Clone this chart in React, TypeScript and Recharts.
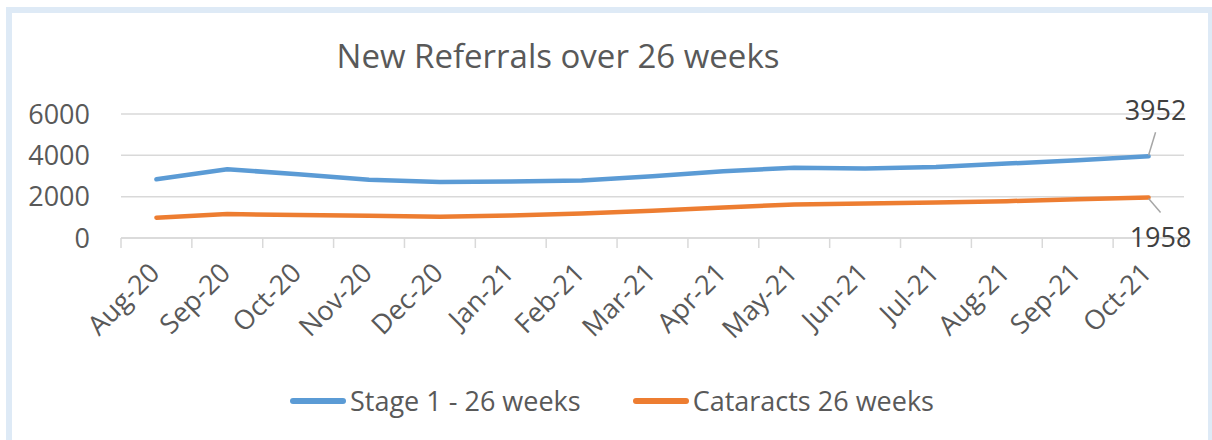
import React from "react";
import {
  LineChart,
  Line,
  XAxis,
  YAxis,
  CartesianGrid,
  Legend,
  LabelList,
} from "recharts";

const months = [
  "Aug-20", "Sep-20", "Oct-20", "Nov-20", "Dec-20", "Jan-21", "Feb-21", "Mar-21",
  "Apr-21", "May-21", "Jun-21", "Jul-21", "Aug-21", "Sep-21", "Oct-21",
];
const stage1 = [2840, 3330, 3080, 2820, 2710, 2730, 2780, 2990, 3230, 3400, 3360, 3430, 3600, 3760, 3952];
const cataracts = [980, 1157, 1110, 1075, 1030, 1090, 1190, 1316, 1478, 1622, 1672, 1720, 1783, 1880, 1958];
const yTicks = [0, 2000, 4000, 6000];

const seriesNames = { stage1: "Stage 1 - 26 weeks", cataracts: "Cataracts 26 weeks" };
const BLUE = "#5b9bd5";
const ORANGE = "#ed7d31";
const TEXT = "#595959";
const GRID = "#d9d9d9";
const FONT = "'Open Sans', sans-serif";

const data = months.map((m, i) => ({ month: m, stage1: stage1[i], cataracts: cataracts[i] }));

const HALF_STEP = 35.43;

const XTick = (props: any) => {
  const { x, y, payload, index } = props;
  const tx = x - 2;
  const ty = y + 30;
  return (
    <g>
      {index === 0 && (
        <line x1={x - HALF_STEP} x2={x - HALF_STEP} y1={y} y2={y + 10} stroke={GRID} strokeWidth={1.5} />
      )}
      <line x1={x + HALF_STEP} x2={x + HALF_STEP} y1={y} y2={y + 10} stroke={GRID} strokeWidth={1.5} />
      <text
        x={tx}
        y={ty}
        transform={`rotate(-45 ${tx} ${ty})`}
        textAnchor="end"
        dy="0.35em"
        fill={TEXT}
        fontSize={27}
        fontFamily={FONT}
      >
        {payload.value}
      </text>
    </g>
  );
};

const endLabel = (dir: "up" | "down") => (props: any) => {
  const { x, y, value, index } = props;
  const last = months.length - 1;
  if (index !== last) return null;
  const up = dir === "up";
  return (
    <g>
      <line
        x1={x}
        y1={up ? y - 1 : y + 1}
        x2={up ? x + 7 : x + 12}
        y2={up ? y - 24 : y + 15}
        stroke="#a6a6a6"
        strokeWidth={1.5}
      />
      <text
        x={up ? x + 7 : x + 12}
        y={up ? y - 46 : y + 40}
        textAnchor="middle"
        dy="0.35em"
        fill="#404040"
        fontSize={27}
        fontFamily={FONT}
      >
        {value}
      </text>
    </g>
  );
};

const LegendContent = () => (
  <div
    style={{
      display: "flex",
      justifyContent: "center",
      alignItems: "center",
      gap: 52,
      paddingLeft: 12,
      fontFamily: FONT,
      fontSize: 27,
      color: TEXT,
    }}
  >
    {[
      { name: seriesNames.stage1, color: BLUE },
      { name: seriesNames.cataracts, color: ORANGE },
    ].map((it) => (
      <div key={it.name} style={{ display: "flex", alignItems: "center" }}>
        <span
          style={{
            display: "inline-block",
            width: 56,
            height: 6,
            borderRadius: 3,
            background: it.color,
            marginRight: 4,
          }}
        />
        <span style={{ lineHeight: "34px" }}>{it.name}</span>
      </div>
    ))}
  </div>
);

export default function App() {
  return (
    <div
      style={{
        position: "absolute",
        left: 0,
        top: 0,
        width: 1212,
        height: 440,
        overflow: "hidden",
        background: "#fff",
      }}
    >
      <div
        style={{
          position: "absolute",
          left: 6,
          top: 7,
          width: 1208,
          height: 450,
          boxSizing: "border-box",
          border: "6px solid #deeaf6",
        }}
      />
      <div
        style={{
          position: "absolute",
          left: 0,
          top: 36,
          width: 1116,
          textAlign: "center",
          fontFamily: FONT,
          fontSize: 33,
          lineHeight: "40px",
          color: TEXT,
        }}
      >
        New Referrals over 26 weeks
      </div>
      <div style={{ position: "absolute", left: 0, top: 0 }}>
        <LineChart
          width={1212}
          height={440}
          data={data}
          margin={{ top: 114, right: 28, bottom: 142, left: 0 }}
        >
          <CartesianGrid vertical={false} stroke={GRID} strokeWidth={1.5} />
          <XAxis
            dataKey="month"
            scale="point"
            padding={{ left: HALF_STEP, right: HALF_STEP }}
            interval={0}
            height={60}
            stroke={GRID}
            strokeWidth={1.5}
            tickLine={false}
            tickSize={0}
            tickMargin={0}
            tick={<XTick />}
          />
          <YAxis
            domain={[0, 6000]}
            ticks={yTicks}
            width={121}
            axisLine={false}
            tickLine={false}
            tickSize={0}
            tickMargin={31}
            tick={{ fill: TEXT, fontSize: 27, fontFamily: FONT }}
          />
          <Legend
            layout="horizontal"
            verticalAlign="middle"
            align="center"
            wrapperStyle={{ top: 384, left: 0, width: 1212 }}
            content={<LegendContent />}
          />
          <Line
            type="linear"
            dataKey="stage1"
            name={seriesNames.stage1}
            stroke={BLUE}
            strokeWidth={4.5}
            strokeLinecap="round"
            strokeLinejoin="round"
            dot={false}
            isAnimationActive={false}
          >
            <LabelList dataKey="stage1" content={endLabel("up")} />
          </Line>
          <Line
            type="linear"
            dataKey="cataracts"
            name={seriesNames.cataracts}
            stroke={ORANGE}
            strokeWidth={4.5}
            strokeLinecap="round"
            strokeLinejoin="round"
            dot={false}
            isAnimationActive={false}
          >
            <LabelList dataKey="cataracts" content={endLabel("down")} />
          </Line>
        </LineChart>
      </div>
    </div>
  );
}
